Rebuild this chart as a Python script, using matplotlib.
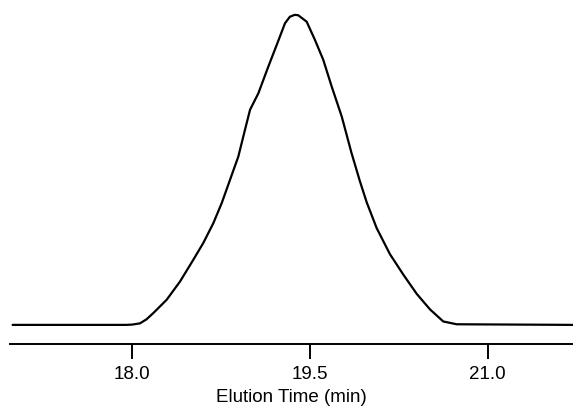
import matplotlib
matplotlib.use("Agg")
import matplotlib.pyplot as plt

# chromatogram trace (normalised detector signal)
elution_time = [16.99, 17.95, 18.00, 18.065, 18.12, 18.177, 18.29, 18.403, 18.515, 18.599,
                18.684, 18.755, 18.825, 18.895, 18.951, 18.994, 19.064, 19.148, 19.219, 19.289,
                19.33, 19.37, 19.40, 19.472, 19.542, 19.612, 19.683, 19.768, 19.85, 19.92,
                19.979, 20.063, 20.175, 20.288, 20.401, 20.513, 20.625, 20.738, 21.72]
signal = [0.0, 0.0, 0.001, 0.005, 0.018, 0.038, 0.081, 0.140, 0.210, 0.264,
          0.328, 0.393, 0.468, 0.543, 0.629, 0.694, 0.747, 0.833, 0.903, 0.973,
          0.994, 1.0, 0.999, 0.978, 0.919, 0.855, 0.769, 0.672, 0.555, 0.465,
          0.395, 0.312, 0.228, 0.162, 0.100, 0.050, 0.011, 0.002, 0.0]
tick_values = [18.0, 19.5, 21.0]
tick_labels = ["18.0", "19.5", "21.0"]

plt.rcParams["font.family"] = ["Liberation Sans", "DejaVu Sans"]

fig = plt.figure(figsize=(5.73, 4.11), dpi=100)
ax = fig.add_axes([0.0175, 0.162, 0.9825, 0.838])

ax.plot(elution_time, signal, color="black", linewidth=1.6,
        solid_joinstyle="round", solid_capstyle="round")

ax.set_xlim(16.968, 21.72)
ax.set_ylim(-0.063, 1.048)

for side in ("top", "right", "left"):
    ax.spines[side].set_visible(False)
ax.spines["bottom"].set_linewidth(1.4)
ax.set_yticks([])
ax.set_xticks(tick_values)
ax.set_xticklabels(tick_labels)
ax.tick_params(axis="x", direction="out", length=10.8, width=1.4, pad=5, labelsize=13.5)
ax.set_xlabel("Elution Time (min)", fontsize=13.5, labelpad=4)

fig.savefig("out.png", dpi=100)
